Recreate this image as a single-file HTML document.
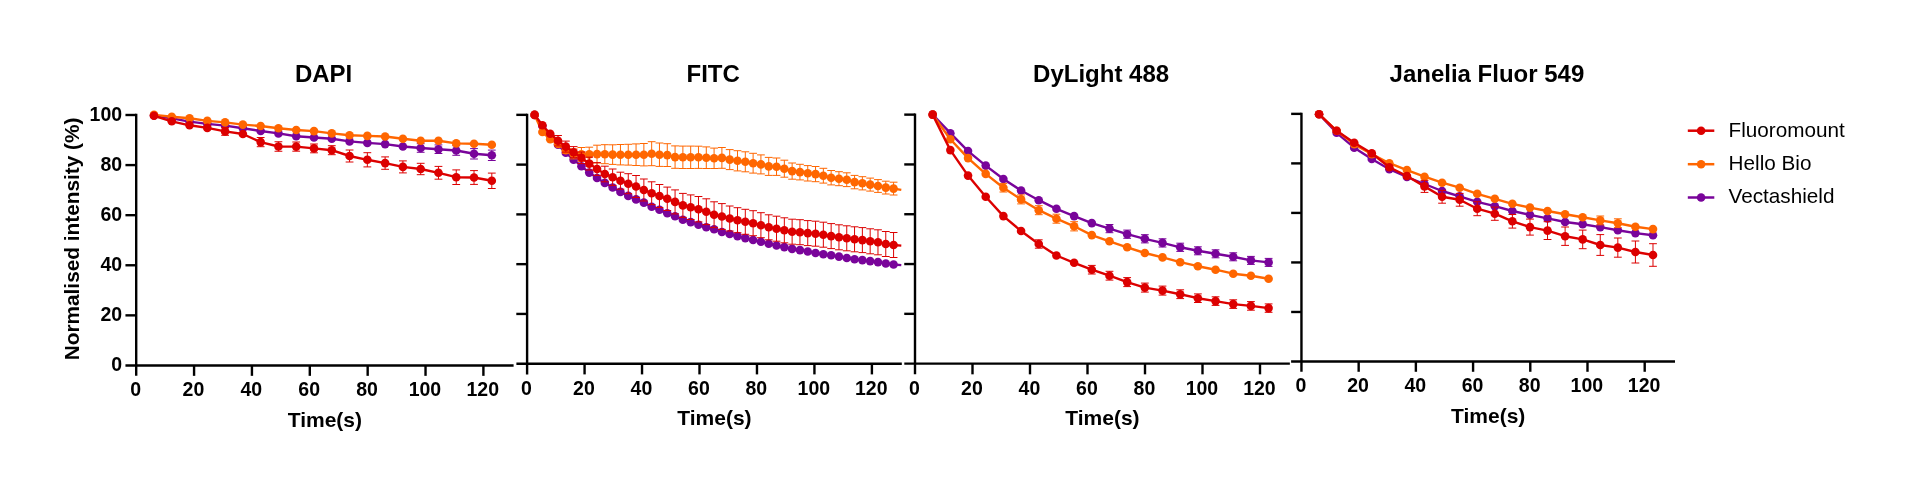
<!DOCTYPE html>
<html><head><meta charset="utf-8"><title>chart</title>
<style>html,body{margin:0;padding:0;background:#fff;overflow:hidden}svg{display:block;will-change:transform}text{fill:#000}</style></head>
<body>
<svg width="1906" height="493" viewBox="0 0 1906 493">
<rect width="1906" height="493" fill="#fff"/>
<path d="M136.20 113.80V375.85" stroke="#000" stroke-width="2.4" fill="none"/>
<path d="M125.45 365.45H513.60" stroke="#000" stroke-width="2.4" fill="none"/>
<path d="M125.45 115.00H136.20" stroke="#000" stroke-width="2.4"/>
<text x="122.1" y="120.90" text-anchor="end" font-family="Liberation Sans, sans-serif" font-weight="bold" font-size="19.5">100</text>
<path d="M125.45 165.09H136.20" stroke="#000" stroke-width="2.4"/>
<text x="122.1" y="170.99" text-anchor="end" font-family="Liberation Sans, sans-serif" font-weight="bold" font-size="19.5">80</text>
<path d="M125.45 215.18H136.20" stroke="#000" stroke-width="2.4"/>
<text x="122.1" y="221.08" text-anchor="end" font-family="Liberation Sans, sans-serif" font-weight="bold" font-size="19.5">60</text>
<path d="M125.45 265.27H136.20" stroke="#000" stroke-width="2.4"/>
<text x="122.1" y="271.17" text-anchor="end" font-family="Liberation Sans, sans-serif" font-weight="bold" font-size="19.5">40</text>
<path d="M125.45 315.36H136.20" stroke="#000" stroke-width="2.4"/>
<text x="122.1" y="321.26" text-anchor="end" font-family="Liberation Sans, sans-serif" font-weight="bold" font-size="19.5">20</text>
<text x="122.1" y="371.35" text-anchor="end" font-family="Liberation Sans, sans-serif" font-weight="bold" font-size="19.5">0</text>
<text x="135.60" y="396.20" text-anchor="middle" font-family="Liberation Sans, sans-serif" font-weight="bold" font-size="19.5">0</text>
<path d="M194.07 365.45V375.85" stroke="#000" stroke-width="2.4"/>
<text x="193.47" y="396.20" text-anchor="middle" font-family="Liberation Sans, sans-serif" font-weight="bold" font-size="19.5">20</text>
<path d="M251.93 365.45V375.85" stroke="#000" stroke-width="2.4"/>
<text x="251.33" y="396.20" text-anchor="middle" font-family="Liberation Sans, sans-serif" font-weight="bold" font-size="19.5">40</text>
<path d="M309.80 365.45V375.85" stroke="#000" stroke-width="2.4"/>
<text x="309.20" y="396.20" text-anchor="middle" font-family="Liberation Sans, sans-serif" font-weight="bold" font-size="19.5">60</text>
<path d="M367.67 365.45V375.85" stroke="#000" stroke-width="2.4"/>
<text x="367.07" y="396.20" text-anchor="middle" font-family="Liberation Sans, sans-serif" font-weight="bold" font-size="19.5">80</text>
<path d="M425.53 365.45V375.85" stroke="#000" stroke-width="2.4"/>
<text x="424.93" y="396.20" text-anchor="middle" font-family="Liberation Sans, sans-serif" font-weight="bold" font-size="19.5">100</text>
<path d="M483.40 365.45V375.85" stroke="#000" stroke-width="2.4"/>
<text x="482.80" y="396.20" text-anchor="middle" font-family="Liberation Sans, sans-serif" font-weight="bold" font-size="19.5">120</text>
<text x="324.90" y="427.20" text-anchor="middle" font-family="Liberation Sans, sans-serif" font-weight="bold" font-size="21">Time(s)</text>
<text x="323.60" y="82.30" text-anchor="middle" font-family="Liberation Sans, sans-serif" font-weight="bold" font-size="24">DAPI</text>
<path d="M420.68 143.70V152.30M416.78 143.70h7.8M416.78 152.30h7.8" stroke="#79049A" stroke-width="1.0" fill="none"/><path d="M438.46 144.90V153.50M434.56 144.90h7.8M434.56 153.50h7.8" stroke="#79049A" stroke-width="1.0" fill="none"/><path d="M456.24 145.70V155.30M452.34 145.70h7.8M452.34 155.30h7.8" stroke="#79049A" stroke-width="1.0" fill="none"/><path d="M474.02 148.60V159.00M470.12 148.60h7.8M470.12 159.00h7.8" stroke="#79049A" stroke-width="1.0" fill="none"/><path d="M491.80 150.10V160.50M487.90 150.10h7.8M487.90 160.50h7.8" stroke="#79049A" stroke-width="1.0" fill="none"/><path d="M153.98 115.50L171.76 118.40L189.54 121.60L207.32 123.90L225.10 125.60L242.88 128.30L260.66 131.00L278.44 133.40L296.22 136.30L314.00 137.50L331.78 138.80L349.56 141.40L367.34 142.90L385.12 144.10L402.90 146.50L420.68 148.00L438.46 149.20L456.24 150.50L474.02 153.80L491.80 155.30" stroke="#79049A" stroke-width="2.4" fill="none" stroke-linejoin="round"/><circle cx="153.98" cy="115.50" r="4.3" fill="#79049A"/><circle cx="171.76" cy="118.40" r="4.3" fill="#79049A"/><circle cx="189.54" cy="121.60" r="4.3" fill="#79049A"/><circle cx="207.32" cy="123.90" r="4.3" fill="#79049A"/><circle cx="225.10" cy="125.60" r="4.3" fill="#79049A"/><circle cx="242.88" cy="128.30" r="4.3" fill="#79049A"/><circle cx="260.66" cy="131.00" r="4.3" fill="#79049A"/><circle cx="278.44" cy="133.40" r="4.3" fill="#79049A"/><circle cx="296.22" cy="136.30" r="4.3" fill="#79049A"/><circle cx="314.00" cy="137.50" r="4.3" fill="#79049A"/><circle cx="331.78" cy="138.80" r="4.3" fill="#79049A"/><circle cx="349.56" cy="141.40" r="4.3" fill="#79049A"/><circle cx="367.34" cy="142.90" r="4.3" fill="#79049A"/><circle cx="385.12" cy="144.10" r="4.3" fill="#79049A"/><circle cx="402.90" cy="146.50" r="4.3" fill="#79049A"/><circle cx="420.68" cy="148.00" r="4.3" fill="#79049A"/><circle cx="438.46" cy="149.20" r="4.3" fill="#79049A"/><circle cx="456.24" cy="150.50" r="4.3" fill="#79049A"/><circle cx="474.02" cy="153.80" r="4.3" fill="#79049A"/><circle cx="491.80" cy="155.30" r="4.3" fill="#79049A"/>
<path d="M153.98 114.90L171.76 116.70L189.54 118.20L207.32 120.90L225.10 122.40L242.88 124.60L260.66 126.00L278.44 128.30L296.22 130.00L314.00 131.10L331.78 133.40L349.56 135.20L367.34 135.90L385.12 136.50L402.90 138.70L420.68 140.70L438.46 140.70L456.24 143.40L474.02 143.80L491.80 144.70" stroke="#FF6600" stroke-width="2.4" fill="none" stroke-linejoin="round"/><circle cx="153.98" cy="114.90" r="4.3" fill="#FF6600"/><circle cx="171.76" cy="116.70" r="4.3" fill="#FF6600"/><circle cx="189.54" cy="118.20" r="4.3" fill="#FF6600"/><circle cx="207.32" cy="120.90" r="4.3" fill="#FF6600"/><circle cx="225.10" cy="122.40" r="4.3" fill="#FF6600"/><circle cx="242.88" cy="124.60" r="4.3" fill="#FF6600"/><circle cx="260.66" cy="126.00" r="4.3" fill="#FF6600"/><circle cx="278.44" cy="128.30" r="4.3" fill="#FF6600"/><circle cx="296.22" cy="130.00" r="4.3" fill="#FF6600"/><circle cx="314.00" cy="131.10" r="4.3" fill="#FF6600"/><circle cx="331.78" cy="133.40" r="4.3" fill="#FF6600"/><circle cx="349.56" cy="135.20" r="4.3" fill="#FF6600"/><circle cx="367.34" cy="135.90" r="4.3" fill="#FF6600"/><circle cx="385.12" cy="136.50" r="4.3" fill="#FF6600"/><circle cx="402.90" cy="138.70" r="4.3" fill="#FF6600"/><circle cx="420.68" cy="140.70" r="4.3" fill="#FF6600"/><circle cx="438.46" cy="140.70" r="4.3" fill="#FF6600"/><circle cx="456.24" cy="143.40" r="4.3" fill="#FF6600"/><circle cx="474.02" cy="143.80" r="4.3" fill="#FF6600"/><circle cx="491.80" cy="144.70" r="4.3" fill="#FF6600"/>
<path d="M225.10 127.50V135.30M221.20 127.50h7.8M221.20 135.30h7.8" stroke="#DC0000" stroke-width="1.0" fill="none"/><path d="M260.66 137.50V146.70M256.76 137.50h7.8M256.76 146.70h7.8" stroke="#DC0000" stroke-width="1.0" fill="none"/><path d="M278.44 141.75V151.25M274.54 141.75h7.8M274.54 151.25h7.8" stroke="#DC0000" stroke-width="1.0" fill="none"/><path d="M296.22 142.00V151.20M292.32 142.00h7.8M292.32 151.20h7.8" stroke="#DC0000" stroke-width="1.0" fill="none"/><path d="M314.00 144.00V152.80M310.10 144.00h7.8M310.10 152.80h7.8" stroke="#DC0000" stroke-width="1.0" fill="none"/><path d="M331.78 145.70V154.70M327.88 145.70h7.8M327.88 154.70h7.8" stroke="#DC0000" stroke-width="1.0" fill="none"/><path d="M349.56 150.00V162.00M345.66 150.00h7.8M345.66 162.00h7.8" stroke="#DC0000" stroke-width="1.0" fill="none"/><path d="M367.34 152.70V166.90M363.44 152.70h7.8M363.44 166.90h7.8" stroke="#DC0000" stroke-width="1.0" fill="none"/><path d="M385.12 156.90V169.30M381.22 156.90h7.8M381.22 169.30h7.8" stroke="#DC0000" stroke-width="1.0" fill="none"/><path d="M402.90 160.90V172.90M399.00 160.90h7.8M399.00 172.90h7.8" stroke="#DC0000" stroke-width="1.0" fill="none"/><path d="M420.68 163.30V174.70M416.78 163.30h7.8M416.78 174.70h7.8" stroke="#DC0000" stroke-width="1.0" fill="none"/><path d="M438.46 166.40V179.20M434.56 166.40h7.8M434.56 179.20h7.8" stroke="#DC0000" stroke-width="1.0" fill="none"/><path d="M456.24 169.90V184.50M452.34 169.90h7.8M452.34 184.50h7.8" stroke="#DC0000" stroke-width="1.0" fill="none"/><path d="M474.02 170.60V184.40M470.12 170.60h7.8M470.12 184.40h7.8" stroke="#DC0000" stroke-width="1.0" fill="none"/><path d="M491.80 173.10V188.50M487.90 173.10h7.8M487.90 188.50h7.8" stroke="#DC0000" stroke-width="1.0" fill="none"/><path d="M153.98 115.80L171.76 121.30L189.54 125.30L207.32 127.90L225.10 131.40L242.88 134.00L260.66 142.10L278.44 146.50L296.22 146.60L314.00 148.40L331.78 150.20L349.56 156.00L367.34 159.80L385.12 163.10L402.90 166.90L420.68 169.00L438.46 172.80L456.24 177.20L474.02 177.50L491.80 180.80" stroke="#DC0000" stroke-width="2.4" fill="none" stroke-linejoin="round"/><circle cx="153.98" cy="115.80" r="4.3" fill="#DC0000"/><circle cx="171.76" cy="121.30" r="4.3" fill="#DC0000"/><circle cx="189.54" cy="125.30" r="4.3" fill="#DC0000"/><circle cx="207.32" cy="127.90" r="4.3" fill="#DC0000"/><circle cx="225.10" cy="131.40" r="4.3" fill="#DC0000"/><circle cx="242.88" cy="134.00" r="4.3" fill="#DC0000"/><circle cx="260.66" cy="142.10" r="4.3" fill="#DC0000"/><circle cx="278.44" cy="146.50" r="4.3" fill="#DC0000"/><circle cx="296.22" cy="146.60" r="4.3" fill="#DC0000"/><circle cx="314.00" cy="148.40" r="4.3" fill="#DC0000"/><circle cx="331.78" cy="150.20" r="4.3" fill="#DC0000"/><circle cx="349.56" cy="156.00" r="4.3" fill="#DC0000"/><circle cx="367.34" cy="159.80" r="4.3" fill="#DC0000"/><circle cx="385.12" cy="163.10" r="4.3" fill="#DC0000"/><circle cx="402.90" cy="166.90" r="4.3" fill="#DC0000"/><circle cx="420.68" cy="169.00" r="4.3" fill="#DC0000"/><circle cx="438.46" cy="172.80" r="4.3" fill="#DC0000"/><circle cx="456.24" cy="177.20" r="4.3" fill="#DC0000"/><circle cx="474.02" cy="177.50" r="4.3" fill="#DC0000"/><circle cx="491.80" cy="180.80" r="4.3" fill="#DC0000"/>
<text transform="translate(78.9 238.95) rotate(-90)" text-anchor="middle" font-family="Liberation Sans, sans-serif" font-weight="bold" font-size="20.8">Normalised intensity (%)</text>
<path d="M527.10 113.65V374.40" stroke="#000" stroke-width="2.4" fill="none"/>
<path d="M516.40 363.70H901.80" stroke="#000" stroke-width="2.4" fill="none"/>
<path d="M516.30 114.85H527.10" stroke="#000" stroke-width="2.4"/>
<path d="M516.30 164.62H527.10" stroke="#000" stroke-width="2.4"/>
<path d="M516.30 214.39H527.10" stroke="#000" stroke-width="2.4"/>
<path d="M516.30 264.16H527.10" stroke="#000" stroke-width="2.4"/>
<path d="M516.30 313.93H527.10" stroke="#000" stroke-width="2.4"/>
<text x="526.50" y="395.00" text-anchor="middle" font-family="Liberation Sans, sans-serif" font-weight="bold" font-size="19.5">0</text>
<path d="M584.57 363.70V374.40" stroke="#000" stroke-width="2.4"/>
<text x="583.97" y="395.00" text-anchor="middle" font-family="Liberation Sans, sans-serif" font-weight="bold" font-size="19.5">20</text>
<path d="M642.03 363.70V374.40" stroke="#000" stroke-width="2.4"/>
<text x="641.43" y="395.00" text-anchor="middle" font-family="Liberation Sans, sans-serif" font-weight="bold" font-size="19.5">40</text>
<path d="M699.50 363.70V374.40" stroke="#000" stroke-width="2.4"/>
<text x="698.90" y="395.00" text-anchor="middle" font-family="Liberation Sans, sans-serif" font-weight="bold" font-size="19.5">60</text>
<path d="M756.97 363.70V374.40" stroke="#000" stroke-width="2.4"/>
<text x="756.37" y="395.00" text-anchor="middle" font-family="Liberation Sans, sans-serif" font-weight="bold" font-size="19.5">80</text>
<path d="M814.43 363.70V374.40" stroke="#000" stroke-width="2.4"/>
<text x="813.83" y="395.00" text-anchor="middle" font-family="Liberation Sans, sans-serif" font-weight="bold" font-size="19.5">100</text>
<path d="M871.90 363.70V374.40" stroke="#000" stroke-width="2.4"/>
<text x="871.30" y="395.00" text-anchor="middle" font-family="Liberation Sans, sans-serif" font-weight="bold" font-size="19.5">120</text>
<text x="714.45" y="425.45" text-anchor="middle" font-family="Liberation Sans, sans-serif" font-weight="bold" font-size="21">Time(s)</text>
<text x="713.15" y="82.00" text-anchor="middle" font-family="Liberation Sans, sans-serif" font-weight="bold" font-size="24">FITC</text>
<path d="M534.60 114.90L542.40 126.00L550.21 135.50L558.01 144.80L565.82 152.70L573.62 159.70L581.42 166.20L589.23 172.60L597.03 178.00L604.84 182.90L612.64 187.50L620.44 191.90L628.25 195.90L636.05 199.40L643.86 202.60L651.66 206.80L659.46 209.80L667.27 213.30L675.07 216.30L682.88 219.70L690.68 222.10L698.48 224.70L706.29 227.30L714.09 229.20L721.90 232.00L729.70 234.00L737.50 236.10L745.31 238.10L753.11 240.00L760.92 241.80L768.72 243.80L776.52 245.50L784.33 247.10L792.13 248.90L799.94 250.10L807.74 251.50L815.54 253.00L823.35 254.20L831.15 255.20L838.96 256.60L846.76 258.00L854.56 259.20L862.37 260.10L870.17 261.10L877.98 262.10L885.78 263.50L893.58 264.50L901.30 265.10" stroke="#79049A" stroke-width="2.4" fill="none" stroke-linejoin="round"/><circle cx="534.60" cy="114.90" r="4.3" fill="#79049A"/><circle cx="542.40" cy="126.00" r="4.3" fill="#79049A"/><circle cx="550.21" cy="135.50" r="4.3" fill="#79049A"/><circle cx="558.01" cy="144.80" r="4.3" fill="#79049A"/><circle cx="565.82" cy="152.70" r="4.3" fill="#79049A"/><circle cx="573.62" cy="159.70" r="4.3" fill="#79049A"/><circle cx="581.42" cy="166.20" r="4.3" fill="#79049A"/><circle cx="589.23" cy="172.60" r="4.3" fill="#79049A"/><circle cx="597.03" cy="178.00" r="4.3" fill="#79049A"/><circle cx="604.84" cy="182.90" r="4.3" fill="#79049A"/><circle cx="612.64" cy="187.50" r="4.3" fill="#79049A"/><circle cx="620.44" cy="191.90" r="4.3" fill="#79049A"/><circle cx="628.25" cy="195.90" r="4.3" fill="#79049A"/><circle cx="636.05" cy="199.40" r="4.3" fill="#79049A"/><circle cx="643.86" cy="202.60" r="4.3" fill="#79049A"/><circle cx="651.66" cy="206.80" r="4.3" fill="#79049A"/><circle cx="659.46" cy="209.80" r="4.3" fill="#79049A"/><circle cx="667.27" cy="213.30" r="4.3" fill="#79049A"/><circle cx="675.07" cy="216.30" r="4.3" fill="#79049A"/><circle cx="682.88" cy="219.70" r="4.3" fill="#79049A"/><circle cx="690.68" cy="222.10" r="4.3" fill="#79049A"/><circle cx="698.48" cy="224.70" r="4.3" fill="#79049A"/><circle cx="706.29" cy="227.30" r="4.3" fill="#79049A"/><circle cx="714.09" cy="229.20" r="4.3" fill="#79049A"/><circle cx="721.90" cy="232.00" r="4.3" fill="#79049A"/><circle cx="729.70" cy="234.00" r="4.3" fill="#79049A"/><circle cx="737.50" cy="236.10" r="4.3" fill="#79049A"/><circle cx="745.31" cy="238.10" r="4.3" fill="#79049A"/><circle cx="753.11" cy="240.00" r="4.3" fill="#79049A"/><circle cx="760.92" cy="241.80" r="4.3" fill="#79049A"/><circle cx="768.72" cy="243.80" r="4.3" fill="#79049A"/><circle cx="776.52" cy="245.50" r="4.3" fill="#79049A"/><circle cx="784.33" cy="247.10" r="4.3" fill="#79049A"/><circle cx="792.13" cy="248.90" r="4.3" fill="#79049A"/><circle cx="799.94" cy="250.10" r="4.3" fill="#79049A"/><circle cx="807.74" cy="251.50" r="4.3" fill="#79049A"/><circle cx="815.54" cy="253.00" r="4.3" fill="#79049A"/><circle cx="823.35" cy="254.20" r="4.3" fill="#79049A"/><circle cx="831.15" cy="255.20" r="4.3" fill="#79049A"/><circle cx="838.96" cy="256.60" r="4.3" fill="#79049A"/><circle cx="846.76" cy="258.00" r="4.3" fill="#79049A"/><circle cx="854.56" cy="259.20" r="4.3" fill="#79049A"/><circle cx="862.37" cy="260.10" r="4.3" fill="#79049A"/><circle cx="870.17" cy="261.10" r="4.3" fill="#79049A"/><circle cx="877.98" cy="262.10" r="4.3" fill="#79049A"/><circle cx="885.78" cy="263.50" r="4.3" fill="#79049A"/><circle cx="893.58" cy="264.50" r="4.3" fill="#79049A"/>
<path d="M565.82 147.20V153.20M561.92 147.20h7.8M561.92 153.20h7.8" stroke="#FF6600" stroke-width="1.0" fill="none"/><path d="M573.62 148.90V158.90M569.72 148.90h7.8M569.72 158.90h7.8" stroke="#FF6600" stroke-width="1.0" fill="none"/><path d="M581.42 147.50V161.30M577.52 147.50h7.8M577.52 161.30h7.8" stroke="#FF6600" stroke-width="1.0" fill="none"/><path d="M589.23 147.20V161.60M585.33 147.20h7.8M585.33 161.60h7.8" stroke="#FF6600" stroke-width="1.0" fill="none"/><path d="M597.03 145.20V163.00M593.13 145.20h7.8M593.13 163.00h7.8" stroke="#FF6600" stroke-width="1.0" fill="none"/><path d="M604.84 144.70V163.70M600.94 144.70h7.8M600.94 163.70h7.8" stroke="#FF6600" stroke-width="1.0" fill="none"/><path d="M612.64 144.80V164.40M608.74 144.80h7.8M608.74 164.40h7.8" stroke="#FF6600" stroke-width="1.0" fill="none"/><path d="M620.44 144.50V164.90M616.54 144.50h7.8M616.54 164.90h7.8" stroke="#FF6600" stroke-width="1.0" fill="none"/><path d="M628.25 144.30V165.10M624.35 144.30h7.8M624.35 165.10h7.8" stroke="#FF6600" stroke-width="1.0" fill="none"/><path d="M636.05 143.90V165.50M632.15 143.90h7.8M632.15 165.50h7.8" stroke="#FF6600" stroke-width="1.0" fill="none"/><path d="M643.86 143.50V165.90M639.96 143.50h7.8M639.96 165.90h7.8" stroke="#FF6600" stroke-width="1.0" fill="none"/><path d="M651.66 141.70V165.70M647.76 141.70h7.8M647.76 165.70h7.8" stroke="#FF6600" stroke-width="1.0" fill="none"/><path d="M659.46 143.00V166.40M655.56 143.00h7.8M655.56 166.40h7.8" stroke="#FF6600" stroke-width="1.0" fill="none"/><path d="M667.27 143.70V166.50M663.37 143.70h7.8M663.37 166.50h7.8" stroke="#FF6600" stroke-width="1.0" fill="none"/><path d="M675.07 145.90V168.30M671.17 145.90h7.8M671.17 168.30h7.8" stroke="#FF6600" stroke-width="1.0" fill="none"/><path d="M682.88 146.10V168.50M678.98 146.10h7.8M678.98 168.50h7.8" stroke="#FF6600" stroke-width="1.0" fill="none"/><path d="M690.68 146.10V168.50M686.78 146.10h7.8M686.78 168.50h7.8" stroke="#FF6600" stroke-width="1.0" fill="none"/><path d="M698.48 146.20V168.40M694.58 146.20h7.8M694.58 168.40h7.8" stroke="#FF6600" stroke-width="1.0" fill="none"/><path d="M706.29 146.90V168.50M702.39 146.90h7.8M702.39 168.50h7.8" stroke="#FF6600" stroke-width="1.0" fill="none"/><path d="M714.09 148.10V168.50M710.19 148.10h7.8M710.19 168.50h7.8" stroke="#FF6600" stroke-width="1.0" fill="none"/><path d="M721.90 147.50V168.30M718.00 147.50h7.8M718.00 168.30h7.8" stroke="#FF6600" stroke-width="1.0" fill="none"/><path d="M729.70 149.60V169.60M725.80 149.60h7.8M725.80 169.60h7.8" stroke="#FF6600" stroke-width="1.0" fill="none"/><path d="M737.50 150.70V170.90M733.60 150.70h7.8M733.60 170.90h7.8" stroke="#FF6600" stroke-width="1.0" fill="none"/><path d="M745.31 151.80V171.80M741.41 151.80h7.8M741.41 171.80h7.8" stroke="#FF6600" stroke-width="1.0" fill="none"/><path d="M753.11 153.30V173.10M749.21 153.30h7.8M749.21 173.10h7.8" stroke="#FF6600" stroke-width="1.0" fill="none"/><path d="M760.92 154.90V173.90M757.02 154.90h7.8M757.02 173.90h7.8" stroke="#FF6600" stroke-width="1.0" fill="none"/><path d="M768.72 157.40V175.40M764.82 157.40h7.8M764.82 175.40h7.8" stroke="#FF6600" stroke-width="1.0" fill="none"/><path d="M776.52 158.00V175.40M772.62 158.00h7.8M772.62 175.40h7.8" stroke="#FF6600" stroke-width="1.0" fill="none"/><path d="M784.33 160.20V177.20M780.43 160.20h7.8M780.43 177.20h7.8" stroke="#FF6600" stroke-width="1.0" fill="none"/><path d="M792.13 163.00V179.20M788.23 163.00h7.8M788.23 179.20h7.8" stroke="#FF6600" stroke-width="1.0" fill="none"/><path d="M799.94 164.30V179.90M796.04 164.30h7.8M796.04 179.90h7.8" stroke="#FF6600" stroke-width="1.0" fill="none"/><path d="M807.74 165.60V181.00M803.84 165.60h7.8M803.84 181.00h7.8" stroke="#FF6600" stroke-width="1.0" fill="none"/><path d="M815.54 166.50V181.70M811.64 166.50h7.8M811.64 181.70h7.8" stroke="#FF6600" stroke-width="1.0" fill="none"/><path d="M823.35 168.30V183.10M819.45 168.30h7.8M819.45 183.10h7.8" stroke="#FF6600" stroke-width="1.0" fill="none"/><path d="M831.15 170.50V184.90M827.25 170.50h7.8M827.25 184.90h7.8" stroke="#FF6600" stroke-width="1.0" fill="none"/><path d="M838.96 171.70V185.70M835.06 171.70h7.8M835.06 185.70h7.8" stroke="#FF6600" stroke-width="1.0" fill="none"/><path d="M846.76 172.80V186.60M842.86 172.80h7.8M842.86 186.60h7.8" stroke="#FF6600" stroke-width="1.0" fill="none"/><path d="M854.56 175.40V188.80M850.66 175.40h7.8M850.66 188.80h7.8" stroke="#FF6600" stroke-width="1.0" fill="none"/><path d="M862.37 176.70V189.90M858.47 176.70h7.8M858.47 189.90h7.8" stroke="#FF6600" stroke-width="1.0" fill="none"/><path d="M870.17 178.10V191.10M866.27 178.10h7.8M866.27 191.10h7.8" stroke="#FF6600" stroke-width="1.0" fill="none"/><path d="M877.98 179.60V192.40M874.08 179.60h7.8M874.08 192.40h7.8" stroke="#FF6600" stroke-width="1.0" fill="none"/><path d="M885.78 181.20V194.00M881.88 181.20h7.8M881.88 194.00h7.8" stroke="#FF6600" stroke-width="1.0" fill="none"/><path d="M893.58 182.20V195.00M889.68 182.20h7.8M889.68 195.00h7.8" stroke="#FF6600" stroke-width="1.0" fill="none"/><path d="M534.60 114.90L542.40 132.00L550.21 139.20L558.01 144.00L565.82 150.20L573.62 153.90L581.42 154.40L589.23 154.40L597.03 154.10L604.84 154.20L612.64 154.60L620.44 154.70L628.25 154.70L636.05 154.70L643.86 154.70L651.66 153.70L659.46 154.70L667.27 155.10L675.07 157.10L682.88 157.30L690.68 157.30L698.48 157.30L706.29 157.70L714.09 158.30L721.90 157.90L729.70 159.60L737.50 160.80L745.31 161.80L753.11 163.20L760.92 164.40L768.72 166.40L776.52 166.70L784.33 168.70L792.13 171.10L799.94 172.10L807.74 173.30L815.54 174.10L823.35 175.70L831.15 177.70L838.96 178.70L846.76 179.70L854.56 182.10L862.37 183.30L870.17 184.60L877.98 186.00L885.78 187.60L893.58 188.60L901.30 189.90" stroke="#FF6600" stroke-width="2.4" fill="none" stroke-linejoin="round"/><circle cx="534.60" cy="114.90" r="4.3" fill="#FF6600"/><circle cx="542.40" cy="132.00" r="4.3" fill="#FF6600"/><circle cx="550.21" cy="139.20" r="4.3" fill="#FF6600"/><circle cx="558.01" cy="144.00" r="4.3" fill="#FF6600"/><circle cx="565.82" cy="150.20" r="4.3" fill="#FF6600"/><circle cx="573.62" cy="153.90" r="4.3" fill="#FF6600"/><circle cx="581.42" cy="154.40" r="4.3" fill="#FF6600"/><circle cx="589.23" cy="154.40" r="4.3" fill="#FF6600"/><circle cx="597.03" cy="154.10" r="4.3" fill="#FF6600"/><circle cx="604.84" cy="154.20" r="4.3" fill="#FF6600"/><circle cx="612.64" cy="154.60" r="4.3" fill="#FF6600"/><circle cx="620.44" cy="154.70" r="4.3" fill="#FF6600"/><circle cx="628.25" cy="154.70" r="4.3" fill="#FF6600"/><circle cx="636.05" cy="154.70" r="4.3" fill="#FF6600"/><circle cx="643.86" cy="154.70" r="4.3" fill="#FF6600"/><circle cx="651.66" cy="153.70" r="4.3" fill="#FF6600"/><circle cx="659.46" cy="154.70" r="4.3" fill="#FF6600"/><circle cx="667.27" cy="155.10" r="4.3" fill="#FF6600"/><circle cx="675.07" cy="157.10" r="4.3" fill="#FF6600"/><circle cx="682.88" cy="157.30" r="4.3" fill="#FF6600"/><circle cx="690.68" cy="157.30" r="4.3" fill="#FF6600"/><circle cx="698.48" cy="157.30" r="4.3" fill="#FF6600"/><circle cx="706.29" cy="157.70" r="4.3" fill="#FF6600"/><circle cx="714.09" cy="158.30" r="4.3" fill="#FF6600"/><circle cx="721.90" cy="157.90" r="4.3" fill="#FF6600"/><circle cx="729.70" cy="159.60" r="4.3" fill="#FF6600"/><circle cx="737.50" cy="160.80" r="4.3" fill="#FF6600"/><circle cx="745.31" cy="161.80" r="4.3" fill="#FF6600"/><circle cx="753.11" cy="163.20" r="4.3" fill="#FF6600"/><circle cx="760.92" cy="164.40" r="4.3" fill="#FF6600"/><circle cx="768.72" cy="166.40" r="4.3" fill="#FF6600"/><circle cx="776.52" cy="166.70" r="4.3" fill="#FF6600"/><circle cx="784.33" cy="168.70" r="4.3" fill="#FF6600"/><circle cx="792.13" cy="171.10" r="4.3" fill="#FF6600"/><circle cx="799.94" cy="172.10" r="4.3" fill="#FF6600"/><circle cx="807.74" cy="173.30" r="4.3" fill="#FF6600"/><circle cx="815.54" cy="174.10" r="4.3" fill="#FF6600"/><circle cx="823.35" cy="175.70" r="4.3" fill="#FF6600"/><circle cx="831.15" cy="177.70" r="4.3" fill="#FF6600"/><circle cx="838.96" cy="178.70" r="4.3" fill="#FF6600"/><circle cx="846.76" cy="179.70" r="4.3" fill="#FF6600"/><circle cx="854.56" cy="182.10" r="4.3" fill="#FF6600"/><circle cx="862.37" cy="183.30" r="4.3" fill="#FF6600"/><circle cx="870.17" cy="184.60" r="4.3" fill="#FF6600"/><circle cx="877.98" cy="186.00" r="4.3" fill="#FF6600"/><circle cx="885.78" cy="187.60" r="4.3" fill="#FF6600"/><circle cx="893.58" cy="188.60" r="4.3" fill="#FF6600"/>
<path d="M558.01 135.50V145.90M554.11 135.50h7.8M554.11 145.90h7.8" stroke="#DC0000" stroke-width="1.0" fill="none"/><path d="M565.82 141.10V152.10M561.92 141.10h7.8M561.92 152.10h7.8" stroke="#DC0000" stroke-width="1.0" fill="none"/><path d="M573.62 146.60V157.80M569.72 146.60h7.8M569.72 157.80h7.8" stroke="#DC0000" stroke-width="1.0" fill="none"/><path d="M581.42 152.00V163.60M577.52 152.00h7.8M577.52 163.60h7.8" stroke="#DC0000" stroke-width="1.0" fill="none"/><path d="M589.23 157.20V170.00M585.33 157.20h7.8M585.33 170.00h7.8" stroke="#DC0000" stroke-width="1.0" fill="none"/><path d="M597.03 162.60V175.40M593.13 162.60h7.8M593.13 175.40h7.8" stroke="#DC0000" stroke-width="1.0" fill="none"/><path d="M604.84 166.20V181.80M600.94 166.20h7.8M600.94 181.80h7.8" stroke="#DC0000" stroke-width="1.0" fill="none"/><path d="M612.64 169.00V185.40M608.74 169.00h7.8M608.74 185.40h7.8" stroke="#DC0000" stroke-width="1.0" fill="none"/><path d="M620.44 172.20V189.20M616.54 172.20h7.8M616.54 189.20h7.8" stroke="#DC0000" stroke-width="1.0" fill="none"/><path d="M628.25 173.70V193.70M624.35 173.70h7.8M624.35 193.70h7.8" stroke="#DC0000" stroke-width="1.0" fill="none"/><path d="M636.05 175.50V197.50M632.15 175.50h7.8M632.15 197.50h7.8" stroke="#DC0000" stroke-width="1.0" fill="none"/><path d="M643.86 179.00V201.00M639.96 179.00h7.8M639.96 201.00h7.8" stroke="#DC0000" stroke-width="1.0" fill="none"/><path d="M651.66 181.80V204.60M647.76 181.80h7.8M647.76 204.60h7.8" stroke="#DC0000" stroke-width="1.0" fill="none"/><path d="M659.46 184.50V207.50M655.56 184.50h7.8M655.56 207.50h7.8" stroke="#DC0000" stroke-width="1.0" fill="none"/><path d="M667.27 187.10V210.50M663.37 187.10h7.8M663.37 210.50h7.8" stroke="#DC0000" stroke-width="1.0" fill="none"/><path d="M675.07 189.90V213.90M671.17 189.90h7.8M671.17 213.90h7.8" stroke="#DC0000" stroke-width="1.0" fill="none"/><path d="M682.88 193.40V217.40M678.98 193.40h7.8M678.98 217.40h7.8" stroke="#DC0000" stroke-width="1.0" fill="none"/><path d="M690.68 194.90V219.50M686.78 194.90h7.8M686.78 219.50h7.8" stroke="#DC0000" stroke-width="1.0" fill="none"/><path d="M698.48 196.50V221.90M694.58 196.50h7.8M694.58 221.90h7.8" stroke="#DC0000" stroke-width="1.0" fill="none"/><path d="M706.29 198.80V224.60M702.39 198.80h7.8M702.39 224.60h7.8" stroke="#DC0000" stroke-width="1.0" fill="none"/><path d="M714.09 201.80V227.60M710.19 201.80h7.8M710.19 227.60h7.8" stroke="#DC0000" stroke-width="1.0" fill="none"/><path d="M721.90 203.60V229.40M718.00 203.60h7.8M718.00 229.40h7.8" stroke="#DC0000" stroke-width="1.0" fill="none"/><path d="M729.70 206.00V231.00M725.80 206.00h7.8M725.80 231.00h7.8" stroke="#DC0000" stroke-width="1.0" fill="none"/><path d="M737.50 207.70V232.70M733.60 207.70h7.8M733.60 232.70h7.8" stroke="#DC0000" stroke-width="1.0" fill="none"/><path d="M745.31 209.30V234.30M741.41 209.30h7.8M741.41 234.30h7.8" stroke="#DC0000" stroke-width="1.0" fill="none"/><path d="M753.11 210.70V235.70M749.21 210.70h7.8M749.21 235.70h7.8" stroke="#DC0000" stroke-width="1.0" fill="none"/><path d="M760.92 212.70V237.70M757.02 212.70h7.8M757.02 237.70h7.8" stroke="#DC0000" stroke-width="1.0" fill="none"/><path d="M768.72 214.80V239.80M764.82 214.80h7.8M764.82 239.80h7.8" stroke="#DC0000" stroke-width="1.0" fill="none"/><path d="M776.52 216.20V241.20M772.62 216.20h7.8M772.62 241.20h7.8" stroke="#DC0000" stroke-width="1.0" fill="none"/><path d="M784.33 217.80V242.80M780.43 217.80h7.8M780.43 242.80h7.8" stroke="#DC0000" stroke-width="1.0" fill="none"/><path d="M792.13 219.20V244.20M788.23 219.20h7.8M788.23 244.20h7.8" stroke="#DC0000" stroke-width="1.0" fill="none"/><path d="M799.94 219.70V244.70M796.04 219.70h7.8M796.04 244.70h7.8" stroke="#DC0000" stroke-width="1.0" fill="none"/><path d="M807.74 220.60V245.60M803.84 220.60h7.8M803.84 245.60h7.8" stroke="#DC0000" stroke-width="1.0" fill="none"/><path d="M815.54 221.20V246.20M811.64 221.20h7.8M811.64 246.20h7.8" stroke="#DC0000" stroke-width="1.0" fill="none"/><path d="M823.35 222.20V247.20M819.45 222.20h7.8M819.45 247.20h7.8" stroke="#DC0000" stroke-width="1.0" fill="none"/><path d="M831.15 223.60V248.60M827.25 223.60h7.8M827.25 248.60h7.8" stroke="#DC0000" stroke-width="1.0" fill="none"/><path d="M838.96 224.80V249.80M835.06 224.80h7.8M835.06 249.80h7.8" stroke="#DC0000" stroke-width="1.0" fill="none"/><path d="M846.76 225.80V250.80M842.86 225.80h7.8M842.86 250.80h7.8" stroke="#DC0000" stroke-width="1.0" fill="none"/><path d="M854.56 226.80V251.80M850.66 226.80h7.8M850.66 251.80h7.8" stroke="#DC0000" stroke-width="1.0" fill="none"/><path d="M862.37 227.60V252.60M858.47 227.60h7.8M858.47 252.60h7.8" stroke="#DC0000" stroke-width="1.0" fill="none"/><path d="M870.17 228.80V253.80M866.27 228.80h7.8M866.27 253.80h7.8" stroke="#DC0000" stroke-width="1.0" fill="none"/><path d="M877.98 229.80V254.80M874.08 229.80h7.8M874.08 254.80h7.8" stroke="#DC0000" stroke-width="1.0" fill="none"/><path d="M885.78 231.50V256.50M881.88 231.50h7.8M881.88 256.50h7.8" stroke="#DC0000" stroke-width="1.0" fill="none"/><path d="M893.58 232.50V257.50M889.68 232.50h7.8M889.68 257.50h7.8" stroke="#DC0000" stroke-width="1.0" fill="none"/><path d="M534.60 114.90L542.40 125.20L550.21 133.70L558.01 140.70L565.82 146.60L573.62 152.20L581.42 157.80L589.23 163.60L597.03 169.00L604.84 174.00L612.64 177.20L620.44 180.70L628.25 183.70L636.05 186.50L643.86 190.00L651.66 193.20L659.46 196.00L667.27 198.80L675.07 201.90L682.88 205.40L690.68 207.20L698.48 209.20L706.29 211.70L714.09 214.70L721.90 216.50L729.70 218.50L737.50 220.20L745.31 221.80L753.11 223.20L760.92 225.20L768.72 227.30L776.52 228.70L784.33 230.30L792.13 231.70L799.94 232.20L807.74 233.10L815.54 233.70L823.35 234.70L831.15 236.10L838.96 237.30L846.76 238.30L854.56 239.30L862.37 240.10L870.17 241.30L877.98 242.30L885.78 244.00L893.58 245.00L901.30 245.60" stroke="#DC0000" stroke-width="2.4" fill="none" stroke-linejoin="round"/><circle cx="534.60" cy="114.90" r="4.3" fill="#DC0000"/><circle cx="542.40" cy="125.20" r="4.3" fill="#DC0000"/><circle cx="550.21" cy="133.70" r="4.3" fill="#DC0000"/><circle cx="558.01" cy="140.70" r="4.3" fill="#DC0000"/><circle cx="565.82" cy="146.60" r="4.3" fill="#DC0000"/><circle cx="573.62" cy="152.20" r="4.3" fill="#DC0000"/><circle cx="581.42" cy="157.80" r="4.3" fill="#DC0000"/><circle cx="589.23" cy="163.60" r="4.3" fill="#DC0000"/><circle cx="597.03" cy="169.00" r="4.3" fill="#DC0000"/><circle cx="604.84" cy="174.00" r="4.3" fill="#DC0000"/><circle cx="612.64" cy="177.20" r="4.3" fill="#DC0000"/><circle cx="620.44" cy="180.70" r="4.3" fill="#DC0000"/><circle cx="628.25" cy="183.70" r="4.3" fill="#DC0000"/><circle cx="636.05" cy="186.50" r="4.3" fill="#DC0000"/><circle cx="643.86" cy="190.00" r="4.3" fill="#DC0000"/><circle cx="651.66" cy="193.20" r="4.3" fill="#DC0000"/><circle cx="659.46" cy="196.00" r="4.3" fill="#DC0000"/><circle cx="667.27" cy="198.80" r="4.3" fill="#DC0000"/><circle cx="675.07" cy="201.90" r="4.3" fill="#DC0000"/><circle cx="682.88" cy="205.40" r="4.3" fill="#DC0000"/><circle cx="690.68" cy="207.20" r="4.3" fill="#DC0000"/><circle cx="698.48" cy="209.20" r="4.3" fill="#DC0000"/><circle cx="706.29" cy="211.70" r="4.3" fill="#DC0000"/><circle cx="714.09" cy="214.70" r="4.3" fill="#DC0000"/><circle cx="721.90" cy="216.50" r="4.3" fill="#DC0000"/><circle cx="729.70" cy="218.50" r="4.3" fill="#DC0000"/><circle cx="737.50" cy="220.20" r="4.3" fill="#DC0000"/><circle cx="745.31" cy="221.80" r="4.3" fill="#DC0000"/><circle cx="753.11" cy="223.20" r="4.3" fill="#DC0000"/><circle cx="760.92" cy="225.20" r="4.3" fill="#DC0000"/><circle cx="768.72" cy="227.30" r="4.3" fill="#DC0000"/><circle cx="776.52" cy="228.70" r="4.3" fill="#DC0000"/><circle cx="784.33" cy="230.30" r="4.3" fill="#DC0000"/><circle cx="792.13" cy="231.70" r="4.3" fill="#DC0000"/><circle cx="799.94" cy="232.20" r="4.3" fill="#DC0000"/><circle cx="807.74" cy="233.10" r="4.3" fill="#DC0000"/><circle cx="815.54" cy="233.70" r="4.3" fill="#DC0000"/><circle cx="823.35" cy="234.70" r="4.3" fill="#DC0000"/><circle cx="831.15" cy="236.10" r="4.3" fill="#DC0000"/><circle cx="838.96" cy="237.30" r="4.3" fill="#DC0000"/><circle cx="846.76" cy="238.30" r="4.3" fill="#DC0000"/><circle cx="854.56" cy="239.30" r="4.3" fill="#DC0000"/><circle cx="862.37" cy="240.10" r="4.3" fill="#DC0000"/><circle cx="870.17" cy="241.30" r="4.3" fill="#DC0000"/><circle cx="877.98" cy="242.30" r="4.3" fill="#DC0000"/><circle cx="885.78" cy="244.00" r="4.3" fill="#DC0000"/><circle cx="893.58" cy="245.00" r="4.3" fill="#DC0000"/>
<path d="M915.00 113.43V374.34" stroke="#000" stroke-width="2.4" fill="none"/>
<path d="M904.30 363.64H1289.85" stroke="#000" stroke-width="2.4" fill="none"/>
<path d="M904.25 114.63H915.00" stroke="#000" stroke-width="2.4"/>
<path d="M904.25 164.43H915.00" stroke="#000" stroke-width="2.4"/>
<path d="M904.25 214.23H915.00" stroke="#000" stroke-width="2.4"/>
<path d="M904.25 264.04H915.00" stroke="#000" stroke-width="2.4"/>
<path d="M904.25 313.84H915.00" stroke="#000" stroke-width="2.4"/>
<text x="914.40" y="395.00" text-anchor="middle" font-family="Liberation Sans, sans-serif" font-weight="bold" font-size="19.5">0</text>
<path d="M972.50 363.64V374.34" stroke="#000" stroke-width="2.4"/>
<text x="971.90" y="395.00" text-anchor="middle" font-family="Liberation Sans, sans-serif" font-weight="bold" font-size="19.5">20</text>
<path d="M1030.00 363.64V374.34" stroke="#000" stroke-width="2.4"/>
<text x="1029.40" y="395.00" text-anchor="middle" font-family="Liberation Sans, sans-serif" font-weight="bold" font-size="19.5">40</text>
<path d="M1087.50 363.64V374.34" stroke="#000" stroke-width="2.4"/>
<text x="1086.90" y="395.00" text-anchor="middle" font-family="Liberation Sans, sans-serif" font-weight="bold" font-size="19.5">60</text>
<path d="M1145.00 363.64V374.34" stroke="#000" stroke-width="2.4"/>
<text x="1144.40" y="395.00" text-anchor="middle" font-family="Liberation Sans, sans-serif" font-weight="bold" font-size="19.5">80</text>
<path d="M1202.50 363.64V374.34" stroke="#000" stroke-width="2.4"/>
<text x="1201.90" y="395.00" text-anchor="middle" font-family="Liberation Sans, sans-serif" font-weight="bold" font-size="19.5">100</text>
<path d="M1260.00 363.64V374.34" stroke="#000" stroke-width="2.4"/>
<text x="1259.40" y="395.00" text-anchor="middle" font-family="Liberation Sans, sans-serif" font-weight="bold" font-size="19.5">120</text>
<text x="1102.42" y="425.39" text-anchor="middle" font-family="Liberation Sans, sans-serif" font-weight="bold" font-size="21">Time(s)</text>
<text x="1101.12" y="81.60" text-anchor="middle" font-family="Liberation Sans, sans-serif" font-weight="bold" font-size="24">DyLight 488</text>
<path d="M1109.48 224.50V232.70M1105.58 224.50h7.8M1105.58 232.70h7.8" stroke="#79049A" stroke-width="1.0" fill="none"/><path d="M1127.16 230.10V238.30M1123.26 230.10h7.8M1123.26 238.30h7.8" stroke="#79049A" stroke-width="1.0" fill="none"/><path d="M1144.84 234.70V242.90M1140.94 234.70h7.8M1140.94 242.90h7.8" stroke="#79049A" stroke-width="1.0" fill="none"/><path d="M1162.52 238.80V247.00M1158.62 238.80h7.8M1158.62 247.00h7.8" stroke="#79049A" stroke-width="1.0" fill="none"/><path d="M1180.20 243.20V251.40M1176.30 243.20h7.8M1176.30 251.40h7.8" stroke="#79049A" stroke-width="1.0" fill="none"/><path d="M1197.88 246.80V254.80M1193.98 246.80h7.8M1193.98 254.80h7.8" stroke="#79049A" stroke-width="1.0" fill="none"/><path d="M1215.56 249.80V257.80M1211.66 249.80h7.8M1211.66 257.80h7.8" stroke="#79049A" stroke-width="1.0" fill="none"/><path d="M1233.24 252.80V260.80M1229.34 252.80h7.8M1229.34 260.80h7.8" stroke="#79049A" stroke-width="1.0" fill="none"/><path d="M1250.92 256.40V264.40M1247.02 256.40h7.8M1247.02 264.40h7.8" stroke="#79049A" stroke-width="1.0" fill="none"/><path d="M1268.60 258.40V266.40M1264.70 258.40h7.8M1264.70 266.40h7.8" stroke="#79049A" stroke-width="1.0" fill="none"/><path d="M932.68 114.60L950.36 133.20L968.04 151.10L985.72 165.60L1003.40 179.00L1021.08 190.50L1038.76 200.20L1056.44 208.80L1074.12 216.10L1091.80 223.10L1109.48 228.60L1127.16 234.20L1144.84 238.80L1162.52 242.90L1180.20 247.30L1197.88 250.80L1215.56 253.80L1233.24 256.80L1250.92 260.40L1268.60 262.40" stroke="#79049A" stroke-width="2.4" fill="none" stroke-linejoin="round"/><circle cx="932.68" cy="114.60" r="4.3" fill="#79049A"/><circle cx="950.36" cy="133.20" r="4.3" fill="#79049A"/><circle cx="968.04" cy="151.10" r="4.3" fill="#79049A"/><circle cx="985.72" cy="165.60" r="4.3" fill="#79049A"/><circle cx="1003.40" cy="179.00" r="4.3" fill="#79049A"/><circle cx="1021.08" cy="190.50" r="4.3" fill="#79049A"/><circle cx="1038.76" cy="200.20" r="4.3" fill="#79049A"/><circle cx="1056.44" cy="208.80" r="4.3" fill="#79049A"/><circle cx="1074.12" cy="216.10" r="4.3" fill="#79049A"/><circle cx="1091.80" cy="223.10" r="4.3" fill="#79049A"/><circle cx="1109.48" cy="228.60" r="4.3" fill="#79049A"/><circle cx="1127.16" cy="234.20" r="4.3" fill="#79049A"/><circle cx="1144.84" cy="238.80" r="4.3" fill="#79049A"/><circle cx="1162.52" cy="242.90" r="4.3" fill="#79049A"/><circle cx="1180.20" cy="247.30" r="4.3" fill="#79049A"/><circle cx="1197.88" cy="250.80" r="4.3" fill="#79049A"/><circle cx="1215.56" cy="253.80" r="4.3" fill="#79049A"/><circle cx="1233.24" cy="256.80" r="4.3" fill="#79049A"/><circle cx="1250.92" cy="260.40" r="4.3" fill="#79049A"/><circle cx="1268.60" cy="262.40" r="4.3" fill="#79049A"/>
<path d="M1003.40 183.40V192.00M999.50 183.40h7.8M999.50 192.00h7.8" stroke="#FF6600" stroke-width="1.0" fill="none"/><path d="M1021.08 194.90V203.90M1017.18 194.90h7.8M1017.18 203.90h7.8" stroke="#FF6600" stroke-width="1.0" fill="none"/><path d="M1038.76 205.70V214.70M1034.86 205.70h7.8M1034.86 214.70h7.8" stroke="#FF6600" stroke-width="1.0" fill="none"/><path d="M1056.44 214.20V223.20M1052.54 214.20h7.8M1052.54 223.20h7.8" stroke="#FF6600" stroke-width="1.0" fill="none"/><path d="M1074.12 221.70V230.90M1070.22 221.70h7.8M1070.22 230.90h7.8" stroke="#FF6600" stroke-width="1.0" fill="none"/><path d="M932.68 114.60L950.36 139.20L968.04 158.10L985.72 173.90L1003.40 187.70L1021.08 199.40L1038.76 210.20L1056.44 218.70L1074.12 226.30L1091.80 235.10L1109.48 241.30L1127.16 247.30L1144.84 253.00L1162.52 257.40L1180.20 262.20L1197.88 266.20L1215.56 269.70L1233.24 273.70L1250.92 275.70L1268.60 278.70" stroke="#FF6600" stroke-width="2.4" fill="none" stroke-linejoin="round"/><circle cx="932.68" cy="114.60" r="4.3" fill="#FF6600"/><circle cx="950.36" cy="139.20" r="4.3" fill="#FF6600"/><circle cx="968.04" cy="158.10" r="4.3" fill="#FF6600"/><circle cx="985.72" cy="173.90" r="4.3" fill="#FF6600"/><circle cx="1003.40" cy="187.70" r="4.3" fill="#FF6600"/><circle cx="1021.08" cy="199.40" r="4.3" fill="#FF6600"/><circle cx="1038.76" cy="210.20" r="4.3" fill="#FF6600"/><circle cx="1056.44" cy="218.70" r="4.3" fill="#FF6600"/><circle cx="1074.12" cy="226.30" r="4.3" fill="#FF6600"/><circle cx="1091.80" cy="235.10" r="4.3" fill="#FF6600"/><circle cx="1109.48" cy="241.30" r="4.3" fill="#FF6600"/><circle cx="1127.16" cy="247.30" r="4.3" fill="#FF6600"/><circle cx="1144.84" cy="253.00" r="4.3" fill="#FF6600"/><circle cx="1162.52" cy="257.40" r="4.3" fill="#FF6600"/><circle cx="1180.20" cy="262.20" r="4.3" fill="#FF6600"/><circle cx="1197.88" cy="266.20" r="4.3" fill="#FF6600"/><circle cx="1215.56" cy="269.70" r="4.3" fill="#FF6600"/><circle cx="1233.24" cy="273.70" r="4.3" fill="#FF6600"/><circle cx="1250.92" cy="275.70" r="4.3" fill="#FF6600"/><circle cx="1268.60" cy="278.70" r="4.3" fill="#FF6600"/>
<path d="M1038.76 239.80V248.20M1034.86 239.80h7.8M1034.86 248.20h7.8" stroke="#DC0000" stroke-width="1.0" fill="none"/><path d="M1091.80 265.40V274.00M1087.90 265.40h7.8M1087.90 274.00h7.8" stroke="#DC0000" stroke-width="1.0" fill="none"/><path d="M1109.48 271.30V280.10M1105.58 271.30h7.8M1105.58 280.10h7.8" stroke="#DC0000" stroke-width="1.0" fill="none"/><path d="M1127.16 277.60V286.60M1123.26 277.60h7.8M1123.26 286.60h7.8" stroke="#DC0000" stroke-width="1.0" fill="none"/><path d="M1144.84 283.10V292.10M1140.94 283.10h7.8M1140.94 292.10h7.8" stroke="#DC0000" stroke-width="1.0" fill="none"/><path d="M1162.52 286.10V295.10M1158.62 286.10h7.8M1158.62 295.10h7.8" stroke="#DC0000" stroke-width="1.0" fill="none"/><path d="M1180.20 289.80V298.60M1176.30 289.80h7.8M1176.30 298.60h7.8" stroke="#DC0000" stroke-width="1.0" fill="none"/><path d="M1197.88 293.90V302.50M1193.98 293.90h7.8M1193.98 302.50h7.8" stroke="#DC0000" stroke-width="1.0" fill="none"/><path d="M1215.56 296.80V305.40M1211.66 296.80h7.8M1211.66 305.40h7.8" stroke="#DC0000" stroke-width="1.0" fill="none"/><path d="M1233.24 299.80V308.40M1229.34 299.80h7.8M1229.34 308.40h7.8" stroke="#DC0000" stroke-width="1.0" fill="none"/><path d="M1250.92 301.60V310.20M1247.02 301.60h7.8M1247.02 310.20h7.8" stroke="#DC0000" stroke-width="1.0" fill="none"/><path d="M1268.60 303.90V312.30M1264.70 303.90h7.8M1264.70 312.30h7.8" stroke="#DC0000" stroke-width="1.0" fill="none"/><path d="M932.68 114.60L950.36 150.10L968.04 175.60L985.72 196.80L1003.40 216.10L1021.08 231.00L1038.76 244.00L1056.44 255.50L1074.12 262.80L1091.80 269.70L1109.48 275.70L1127.16 282.10L1144.84 287.60L1162.52 290.60L1180.20 294.20L1197.88 298.20L1215.56 301.10L1233.24 304.10L1250.92 305.90L1268.60 308.10" stroke="#DC0000" stroke-width="2.4" fill="none" stroke-linejoin="round"/><circle cx="932.68" cy="114.60" r="4.3" fill="#DC0000"/><circle cx="950.36" cy="150.10" r="4.3" fill="#DC0000"/><circle cx="968.04" cy="175.60" r="4.3" fill="#DC0000"/><circle cx="985.72" cy="196.80" r="4.3" fill="#DC0000"/><circle cx="1003.40" cy="216.10" r="4.3" fill="#DC0000"/><circle cx="1021.08" cy="231.00" r="4.3" fill="#DC0000"/><circle cx="1038.76" cy="244.00" r="4.3" fill="#DC0000"/><circle cx="1056.44" cy="255.50" r="4.3" fill="#DC0000"/><circle cx="1074.12" cy="262.80" r="4.3" fill="#DC0000"/><circle cx="1091.80" cy="269.70" r="4.3" fill="#DC0000"/><circle cx="1109.48" cy="275.70" r="4.3" fill="#DC0000"/><circle cx="1127.16" cy="282.10" r="4.3" fill="#DC0000"/><circle cx="1144.84" cy="287.60" r="4.3" fill="#DC0000"/><circle cx="1162.52" cy="290.60" r="4.3" fill="#DC0000"/><circle cx="1180.20" cy="294.20" r="4.3" fill="#DC0000"/><circle cx="1197.88" cy="298.20" r="4.3" fill="#DC0000"/><circle cx="1215.56" cy="301.10" r="4.3" fill="#DC0000"/><circle cx="1233.24" cy="304.10" r="4.3" fill="#DC0000"/><circle cx="1250.92" cy="305.90" r="4.3" fill="#DC0000"/><circle cx="1268.60" cy="308.10" r="4.3" fill="#DC0000"/>
<path d="M1301.45 112.67V371.79" stroke="#000" stroke-width="2.4" fill="none"/>
<path d="M1291.10 361.49H1675.00" stroke="#000" stroke-width="2.4" fill="none"/>
<path d="M1291.15 113.87H1301.45" stroke="#000" stroke-width="2.4"/>
<path d="M1291.15 163.39H1301.45" stroke="#000" stroke-width="2.4"/>
<path d="M1291.15 212.92H1301.45" stroke="#000" stroke-width="2.4"/>
<path d="M1291.15 262.44H1301.45" stroke="#000" stroke-width="2.4"/>
<path d="M1291.15 311.97H1301.45" stroke="#000" stroke-width="2.4"/>
<text x="1300.85" y="392.10" text-anchor="middle" font-family="Liberation Sans, sans-serif" font-weight="bold" font-size="19.5">0</text>
<path d="M1358.66 361.49V371.79" stroke="#000" stroke-width="2.4"/>
<text x="1358.06" y="392.10" text-anchor="middle" font-family="Liberation Sans, sans-serif" font-weight="bold" font-size="19.5">20</text>
<path d="M1415.87 361.49V371.79" stroke="#000" stroke-width="2.4"/>
<text x="1415.27" y="392.10" text-anchor="middle" font-family="Liberation Sans, sans-serif" font-weight="bold" font-size="19.5">40</text>
<path d="M1473.08 361.49V371.79" stroke="#000" stroke-width="2.4"/>
<text x="1472.48" y="392.10" text-anchor="middle" font-family="Liberation Sans, sans-serif" font-weight="bold" font-size="19.5">60</text>
<path d="M1530.28 361.49V371.79" stroke="#000" stroke-width="2.4"/>
<text x="1529.68" y="392.10" text-anchor="middle" font-family="Liberation Sans, sans-serif" font-weight="bold" font-size="19.5">80</text>
<path d="M1587.49 361.49V371.79" stroke="#000" stroke-width="2.4"/>
<text x="1586.89" y="392.10" text-anchor="middle" font-family="Liberation Sans, sans-serif" font-weight="bold" font-size="19.5">100</text>
<path d="M1644.70 361.49V371.79" stroke="#000" stroke-width="2.4"/>
<text x="1644.10" y="392.10" text-anchor="middle" font-family="Liberation Sans, sans-serif" font-weight="bold" font-size="19.5">120</text>
<text x="1488.22" y="423.24" text-anchor="middle" font-family="Liberation Sans, sans-serif" font-weight="bold" font-size="21">Time(s)</text>
<text x="1486.92" y="81.50" text-anchor="middle" font-family="Liberation Sans, sans-serif" font-weight="bold" font-size="24">Janelia Fluor 549</text>
<path d="M1319.05 114.20L1336.62 132.80L1354.20 147.70L1371.77 159.00L1389.35 169.20L1406.93 177.00L1424.50 184.00L1442.08 191.00L1459.65 196.30L1477.23 201.80L1494.81 206.20L1512.38 211.00L1529.96 214.80L1547.53 218.40L1565.11 222.00L1582.69 224.30L1600.26 227.10L1617.84 230.30L1635.41 233.10L1652.99 235.30" stroke="#79049A" stroke-width="2.4" fill="none" stroke-linejoin="round"/><circle cx="1319.05" cy="114.20" r="4.3" fill="#79049A"/><circle cx="1336.62" cy="132.80" r="4.3" fill="#79049A"/><circle cx="1354.20" cy="147.70" r="4.3" fill="#79049A"/><circle cx="1371.77" cy="159.00" r="4.3" fill="#79049A"/><circle cx="1389.35" cy="169.20" r="4.3" fill="#79049A"/><circle cx="1406.93" cy="177.00" r="4.3" fill="#79049A"/><circle cx="1424.50" cy="184.00" r="4.3" fill="#79049A"/><circle cx="1442.08" cy="191.00" r="4.3" fill="#79049A"/><circle cx="1459.65" cy="196.30" r="4.3" fill="#79049A"/><circle cx="1477.23" cy="201.80" r="4.3" fill="#79049A"/><circle cx="1494.81" cy="206.20" r="4.3" fill="#79049A"/><circle cx="1512.38" cy="211.00" r="4.3" fill="#79049A"/><circle cx="1529.96" cy="214.80" r="4.3" fill="#79049A"/><circle cx="1547.53" cy="218.40" r="4.3" fill="#79049A"/><circle cx="1565.11" cy="222.00" r="4.3" fill="#79049A"/><circle cx="1582.69" cy="224.30" r="4.3" fill="#79049A"/><circle cx="1600.26" cy="227.10" r="4.3" fill="#79049A"/><circle cx="1617.84" cy="230.30" r="4.3" fill="#79049A"/><circle cx="1635.41" cy="233.10" r="4.3" fill="#79049A"/><circle cx="1652.99" cy="235.30" r="4.3" fill="#79049A"/>
<path d="M1600.26 216.00V224.80M1596.36 216.00h7.8M1596.36 224.80h7.8" stroke="#FF6600" stroke-width="1.0" fill="none"/><path d="M1617.84 218.80V227.60M1613.94 218.80h7.8M1613.94 227.60h7.8" stroke="#FF6600" stroke-width="1.0" fill="none"/><path d="M1319.05 114.20L1336.62 130.80L1354.20 144.10L1371.77 154.10L1389.35 163.20L1406.93 170.10L1424.50 176.70L1442.08 182.70L1459.65 187.70L1477.23 193.80L1494.81 198.80L1512.38 203.80L1529.96 207.60L1547.53 211.00L1565.11 214.30L1582.69 217.20L1600.26 220.40L1617.84 223.20L1635.41 226.70L1652.99 229.10" stroke="#FF6600" stroke-width="2.4" fill="none" stroke-linejoin="round"/><circle cx="1319.05" cy="114.20" r="4.3" fill="#FF6600"/><circle cx="1336.62" cy="130.80" r="4.3" fill="#FF6600"/><circle cx="1354.20" cy="144.10" r="4.3" fill="#FF6600"/><circle cx="1371.77" cy="154.10" r="4.3" fill="#FF6600"/><circle cx="1389.35" cy="163.20" r="4.3" fill="#FF6600"/><circle cx="1406.93" cy="170.10" r="4.3" fill="#FF6600"/><circle cx="1424.50" cy="176.70" r="4.3" fill="#FF6600"/><circle cx="1442.08" cy="182.70" r="4.3" fill="#FF6600"/><circle cx="1459.65" cy="187.70" r="4.3" fill="#FF6600"/><circle cx="1477.23" cy="193.80" r="4.3" fill="#FF6600"/><circle cx="1494.81" cy="198.80" r="4.3" fill="#FF6600"/><circle cx="1512.38" cy="203.80" r="4.3" fill="#FF6600"/><circle cx="1529.96" cy="207.60" r="4.3" fill="#FF6600"/><circle cx="1547.53" cy="211.00" r="4.3" fill="#FF6600"/><circle cx="1565.11" cy="214.30" r="4.3" fill="#FF6600"/><circle cx="1582.69" cy="217.20" r="4.3" fill="#FF6600"/><circle cx="1600.26" cy="220.40" r="4.3" fill="#FF6600"/><circle cx="1617.84" cy="223.20" r="4.3" fill="#FF6600"/><circle cx="1635.41" cy="226.70" r="4.3" fill="#FF6600"/><circle cx="1652.99" cy="229.10" r="4.3" fill="#FF6600"/>
<path d="M1424.50 180.40V192.40M1420.60 180.40h7.8M1420.60 192.40h7.8" stroke="#DC0000" stroke-width="1.0" fill="none"/><path d="M1442.08 190.40V203.20M1438.18 190.40h7.8M1438.18 203.20h7.8" stroke="#DC0000" stroke-width="1.0" fill="none"/><path d="M1459.65 193.40V206.20M1455.75 193.40h7.8M1455.75 206.20h7.8" stroke="#DC0000" stroke-width="1.0" fill="none"/><path d="M1477.23 201.70V215.70M1473.33 201.70h7.8M1473.33 215.70h7.8" stroke="#DC0000" stroke-width="1.0" fill="none"/><path d="M1494.81 207.10V220.30M1490.91 207.10h7.8M1490.91 220.30h7.8" stroke="#DC0000" stroke-width="1.0" fill="none"/><path d="M1512.38 214.50V228.10M1508.48 214.50h7.8M1508.48 228.10h7.8" stroke="#DC0000" stroke-width="1.0" fill="none"/><path d="M1529.96 219.10V235.10M1526.06 219.10h7.8M1526.06 235.10h7.8" stroke="#DC0000" stroke-width="1.0" fill="none"/><path d="M1547.53 221.70V239.50M1543.63 221.70h7.8M1543.63 239.50h7.8" stroke="#DC0000" stroke-width="1.0" fill="none"/><path d="M1565.11 227.00V245.40M1561.21 227.00h7.8M1561.21 245.40h7.8" stroke="#DC0000" stroke-width="1.0" fill="none"/><path d="M1582.69 230.10V248.70M1578.79 230.10h7.8M1578.79 248.70h7.8" stroke="#DC0000" stroke-width="1.0" fill="none"/><path d="M1600.26 234.60V255.40M1596.36 234.60h7.8M1596.36 255.40h7.8" stroke="#DC0000" stroke-width="1.0" fill="none"/><path d="M1617.84 238.00V257.20M1613.94 238.00h7.8M1613.94 257.20h7.8" stroke="#DC0000" stroke-width="1.0" fill="none"/><path d="M1635.41 241.00V263.00M1631.51 241.00h7.8M1631.51 263.00h7.8" stroke="#DC0000" stroke-width="1.0" fill="none"/><path d="M1652.99 243.70V266.30M1649.09 243.70h7.8M1649.09 266.30h7.8" stroke="#DC0000" stroke-width="1.0" fill="none"/><path d="M1319.05 114.20L1336.62 130.80L1354.20 142.70L1371.77 153.30L1389.35 167.20L1406.93 176.00L1424.50 186.40L1442.08 196.80L1459.65 199.80L1477.23 208.70L1494.81 213.70L1512.38 221.30L1529.96 227.10L1547.53 230.60L1565.11 236.20L1582.69 239.40L1600.26 245.00L1617.84 247.60L1635.41 252.00L1652.99 255.00" stroke="#DC0000" stroke-width="2.4" fill="none" stroke-linejoin="round"/><circle cx="1319.05" cy="114.20" r="4.3" fill="#DC0000"/><circle cx="1336.62" cy="130.80" r="4.3" fill="#DC0000"/><circle cx="1354.20" cy="142.70" r="4.3" fill="#DC0000"/><circle cx="1371.77" cy="153.30" r="4.3" fill="#DC0000"/><circle cx="1389.35" cy="167.20" r="4.3" fill="#DC0000"/><circle cx="1406.93" cy="176.00" r="4.3" fill="#DC0000"/><circle cx="1424.50" cy="186.40" r="4.3" fill="#DC0000"/><circle cx="1442.08" cy="196.80" r="4.3" fill="#DC0000"/><circle cx="1459.65" cy="199.80" r="4.3" fill="#DC0000"/><circle cx="1477.23" cy="208.70" r="4.3" fill="#DC0000"/><circle cx="1494.81" cy="213.70" r="4.3" fill="#DC0000"/><circle cx="1512.38" cy="221.30" r="4.3" fill="#DC0000"/><circle cx="1529.96" cy="227.10" r="4.3" fill="#DC0000"/><circle cx="1547.53" cy="230.60" r="4.3" fill="#DC0000"/><circle cx="1565.11" cy="236.20" r="4.3" fill="#DC0000"/><circle cx="1582.69" cy="239.40" r="4.3" fill="#DC0000"/><circle cx="1600.26" cy="245.00" r="4.3" fill="#DC0000"/><circle cx="1617.84" cy="247.60" r="4.3" fill="#DC0000"/><circle cx="1635.41" cy="252.00" r="4.3" fill="#DC0000"/><circle cx="1652.99" cy="255.00" r="4.3" fill="#DC0000"/>
<path d="M1687.8 130.7H1714.3" stroke="#DC0000" stroke-width="2.5"/>
<circle cx="1701.1" cy="130.7" r="4.3" fill="#DC0000"/>
<text x="1728.6" y="137.0" font-family="Liberation Sans, sans-serif" font-size="20.7">Fluoromount</text>
<path d="M1687.8 164.2H1714.3" stroke="#FF6600" stroke-width="2.5"/>
<circle cx="1701.1" cy="164.2" r="4.3" fill="#FF6600"/>
<text x="1728.6" y="170.2" font-family="Liberation Sans, sans-serif" font-size="20.7">Hello Bio</text>
<path d="M1687.8 197.5H1714.3" stroke="#79049A" stroke-width="2.5"/>
<circle cx="1701.1" cy="197.5" r="4.3" fill="#79049A"/>
<text x="1728.6" y="203.4" font-family="Liberation Sans, sans-serif" font-size="20.7">Vectashield</text>
</svg>
</body></html>
